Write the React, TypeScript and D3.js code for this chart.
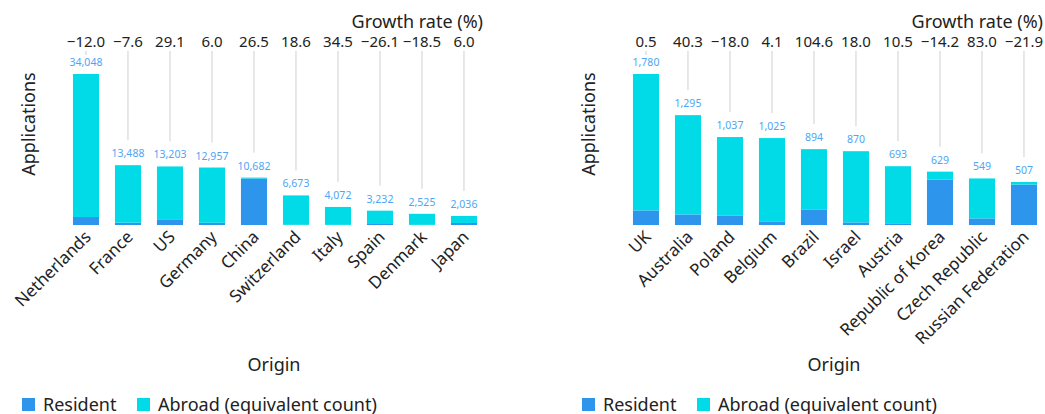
import React from "react";
import * as d3 from "d3";

const leftCategories = ["Netherlands", "France", "US", "Germany", "China", "Switzerland", "Italy", "Spain", "Denmark", "Japan"];
const leftTotals = [34048, 13488, 13203, 12957, 10682, 6673, 4072, 3232, 2525, 2036];
const leftResident = [1800, 520, 1150, 500, 10480, 40, 30, 230, 30, 450];
const leftGrowth = [-12.0, -7.6, 29.1, 6.0, 26.5, 18.6, 34.5, -26.1, -18.5, 6.0];

const rightCategories = ["UK", "Australia", "Poland", "Belgium", "Brazil", "Israel", "Austria", "Republic of Korea", "Czech Republic", "Russian Federation"];
const rightTotals = [1780, 1295, 1037, 1025, 894, 870, 693, 629, 549, 507];
const rightResident = [172, 125, 113, 43, 184, 31, 20, 535, 78, 477];
const rightGrowth = [0.5, 40.3, -18.0, 4.1, 104.6, 18.0, 10.5, -14.2, 83.0, -21.9];

const seriesNames = ["Resident", "Abroad (equivalent count)"];
const colors = ["#2d95ec", "#00dbe7"];

const FONT = "'Noto Sans', 'Open Sans', sans-serif";
const fmtN = d3.format(",");
const fmtG = d3.format(".1f");

type PanelProps = {
  x0: number;
  categories: string[];
  totals: number[];
  resident: number[];
  growth: number[];
};

function Panel({ x0, categories, totals, resident, growth }: PanelProps) {
  const step = 42;
  const pad = 0.38;
  const r0 = 57;
  const x = d3
    .scaleBand<string>()
    .domain(categories)
    .range([r0, r0 + step * (categories.length + pad)])
    .paddingInner(pad)
    .paddingOuter(pad);
  const maxV = d3.max(totals) as number;
  const y = d3.scaleLinear().domain([0, maxV]).range([225, 74]);
  const bw = x.bandwidth();
  return (
    <g transform={`translate(${x0},0)`} fontFamily={FONT}>
      <text x={483} y={28} textAnchor="end" fontSize={18} fill="#222">
        Growth rate (%)
      </text>
      <text
        transform={`translate(35,124) rotate(-90)`}
        textAnchor="middle"
        fontSize={18}
        fill="#222"
      >
        Applications
      </text>
      {categories.map((c, i) => {
        const cx = (x(c) as number) + bw / 2;
        const top = y(totals[i]);
        const labelBase = top - 8;
        const lineEnd = Math.max(labelBase - 17, 55);
        const res = resident[i];
        return (
          <g key={c}>
            <text x={cx} y={47} textAnchor="middle" fontSize={15} fill="#222">
              {fmtG(growth[i])}
            </text>
            <line x1={cx} x2={cx} y1={51} y2={lineEnd} stroke="#d0d0d0" strokeWidth={1} />
            <rect x={x(c)} y={y(res)} width={bw} height={y(0) - y(res)} fill={colors[0]} />
            <rect x={x(c)} y={top} width={bw} height={y(res) - top} fill={colors[1]} />
            <text x={cx} y={labelBase} textAnchor="middle" fontSize={10.5} fill="#4ea5f5">
              {fmtN(totals[i])}
            </text>
            <text
              transform={`translate(${cx + 6},238) rotate(-45)`}
              textAnchor="end"
              fontSize={17}
              fill="#222"
            >
              {c}
            </text>
          </g>
        );
      })}
      <text x={274} y={371} textAnchor="middle" fontSize={18} fill="#222">
        Origin
      </text>
      <g>
        <rect x={22} y={398} width={13} height={13} fill={colors[0]} />
        <text x={43} y={411} fontSize={18} fill="#222">
          {seriesNames[0]}
        </text>
        <rect x={137} y={398} width={13} height={13} fill={colors[1]} />
        <text x={158} y={411} fontSize={18} fill="#222">
          {seriesNames[1]}
        </text>
      </g>
    </g>
  );
}

export default function App() {
  return (
    <svg
      width={1045}
      height={414}
      style={{ position: "absolute", left: 0, top: 0, background: "#fff" }}
    >
      <Panel x0={0} categories={leftCategories} totals={leftTotals} resident={leftResident} growth={leftGrowth} />
      <Panel x0={560} categories={rightCategories} totals={rightTotals} resident={rightResident} growth={rightGrowth} />
    </svg>
  );
}
